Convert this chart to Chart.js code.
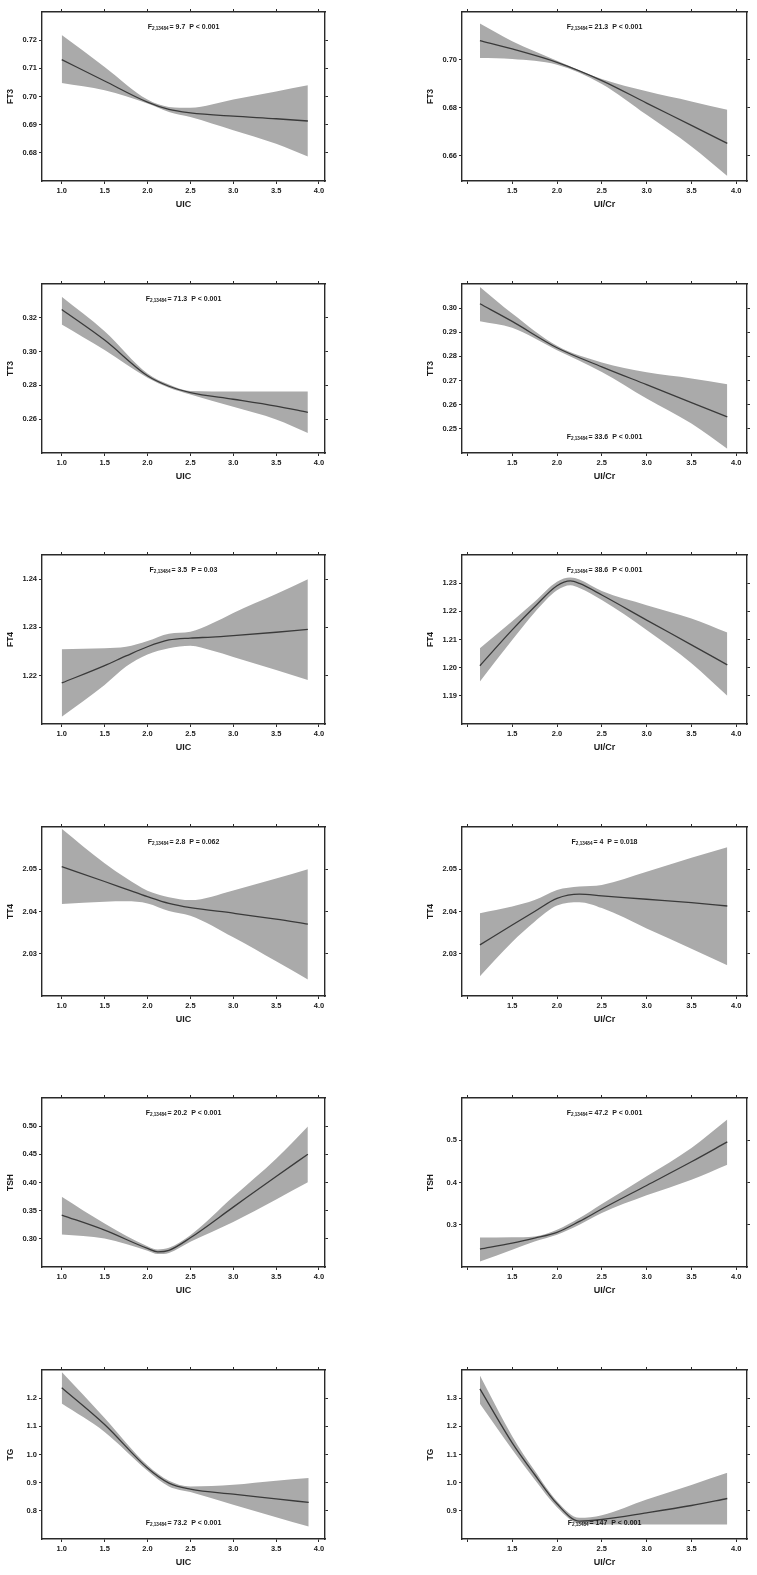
<!DOCTYPE html>
<html><head><meta charset="utf-8">
<script src="https://cdn.jsdelivr.net/npm/chart.js@4.4.0/dist/chart.umd.min.js"></script>
<style>
html,body{margin:0;padding:0;background:#fff;}
body{width:757px;height:1575px;position:relative;overflow:hidden;}
canvas{position:absolute;}
</style></head><body>
<script>
// ---------- DATA ----------
const xTickValues = [1.0, 1.5, 2.0, 2.5, 3.0, 3.5, 4.0];
const xTickLabelsUIC = ['1.0','1.5','2.0','2.5','3.0','3.5','4.0'];
const xTickLabelsUICr = ['','1.5','2.0','2.5','3.0','3.5','4.0'];

const subText = '2,13484';
const statF = ['9.7','21.3','71.3','33.6','3.5','38.6','2.8','4','20.2','47.2','73.2','147'];
const statP = ['P < 0.001','P < 0.001','P < 0.001','P < 0.001','P = 0.03','P < 0.001','P = 0.062','P = 0.018','P < 0.001','P < 0.001','P < 0.001','P < 0.001'];

// FT3 vs UIC
const ft3UicX   = [1.0, 1.5, 2.0, 2.25, 2.5, 3.0, 3.5, 3.87];
const ft3UicFit = [0.7131, 0.7055, 0.6980, 0.6954, 0.6942, 0.6930, 0.6921, 0.6913];
const ft3UicHi  = [0.7218, 0.7105, 0.6989, 0.6963, 0.6960, 0.6989, 0.7018, 0.7040];
const ft3UicLo  = [0.7048, 0.7022, 0.6975, 0.6945, 0.6927, 0.6880, 0.6832, 0.6787];
const ft3UicTicks = ['0.68','0.69','0.70','0.71','0.72'];

// FT3 vs UI/Cr
const ft3CrX   = [1.14, 1.5, 2.0, 2.5, 3.0, 3.5, 3.9];
const ft3CrFit = [0.7081, 0.7046, 0.6990, 0.6914, 0.6820, 0.6727, 0.6652];
const ft3CrHi  = [0.7152, 0.7078, 0.6997, 0.6920, 0.6869, 0.6827, 0.6792];
const ft3CrLo  = [0.7008, 0.7004, 0.6980, 0.6900, 0.6771, 0.6639, 0.6516];
const ft3CrTicks = ['0.66','0.68','0.70'];

// TT3 vs UIC
const tt3UicX   = [1.0, 1.5, 2.0, 2.25, 2.5, 3.0, 3.5, 3.87];
const tt3UicFit = [0.3249, 0.3068, 0.2857, 0.2795, 0.2757, 0.2718, 0.2677, 0.2641];
const tt3UicHi  = [0.3324, 0.3121, 0.2870, 0.2805, 0.2767, 0.2764, 0.2764, 0.2764];
const tt3UicLo  = [0.3161, 0.3009, 0.2845, 0.2786, 0.2746, 0.2673, 0.2598, 0.2519];
const tt3UicTicks = ['0.26','0.28','0.30','0.32'];

// TT3 vs UI/Cr
const tt3CrX   = [1.14, 1.5, 2.0, 2.5, 3.0, 3.5, 3.9];
const tt3CrFit = [0.3018, 0.2945, 0.2836, 0.2757, 0.2683, 0.2609, 0.2550];
const tt3CrHi  = [0.3088, 0.2978, 0.2844, 0.2775, 0.2734, 0.2709, 0.2685];
const tt3CrLo  = [0.2946, 0.2919, 0.2826, 0.2736, 0.2626, 0.2522, 0.2418];
const tt3CrTicks = ['0.25','0.26','0.27','0.28','0.29','0.30'];

// FT4 vs UIC
const ft4UicX   = [1.0, 1.5, 1.75, 2.0, 2.25, 2.5, 2.75, 3.0, 3.5, 3.87];
const ft4UicFit = [1.2185, 1.2221, 1.2241, 1.2260, 1.2274, 1.2278, 1.2280, 1.2283, 1.2290, 1.2296];
const ft4UicHi  = [1.2255, 1.2257, 1.2260, 1.2272, 1.2287, 1.2291, 1.2308, 1.2330, 1.2369, 1.2400];
const ft4UicLo  = [1.2115, 1.2181, 1.2219, 1.2244, 1.2257, 1.2262, 1.2252, 1.2239, 1.2212, 1.2191];
const ft4UicTicks = ['1.22','1.23','1.24'];

// FT4 vs UI/Cr
const ft4CrX   = [1.14, 1.5, 1.75, 2.0, 2.15, 2.25, 2.5, 3.0, 3.5, 3.9];
const ft4CrFit = [1.2007, 1.2134, 1.2216, 1.2291, 1.2308, 1.2299, 1.2258, 1.2169, 1.2081, 1.2010];
const ft4CrHi  = [1.2069, 1.2165, 1.2234, 1.2305, 1.2320, 1.2313, 1.2272, 1.2222, 1.2175, 1.2125];
const ft4CrLo  = [1.1951, 1.2098, 1.2196, 1.2275, 1.2293, 1.2283, 1.2240, 1.2134, 1.2016, 1.1900];
const ft4CrTicks = ['1.19','1.20','1.21','1.22','1.23'];

// TT4 vs UIC
const tt4UicX   = [1.0, 1.5, 1.75, 2.0, 2.25, 2.5, 3.0, 3.5, 3.87];
const tt4UicFit = [2.0506, 2.0471, 2.0453, 2.0435, 2.0419, 2.0409, 2.0396, 2.0382, 2.0370];
const tt4UicHi  = [2.0596, 2.0514, 2.0479, 2.0449, 2.0434, 2.0427, 2.0450, 2.0478, 2.0500];
const tt4UicLo  = [2.0418, 2.0423, 2.0424, 2.0419, 2.0401, 2.0390, 2.0339, 2.0282, 2.0239];
const tt4UicTicks = ['2.03','2.04','2.05'];

// TT4 vs UI/Cr
const tt4CrX   = [1.14, 1.5, 1.75, 2.0, 2.25, 2.5, 3.0, 3.5, 3.9];
const tt4CrFit = [2.0321, 2.0368, 2.0400, 2.0431, 2.0441, 2.0437, 2.0429, 2.0421, 2.0413];
const tt4CrHi  = [2.0396, 2.0412, 2.0427, 2.0451, 2.0459, 2.0463, 2.0494, 2.0527, 2.0552];
const tt4CrLo  = [2.0247, 2.0328, 2.0376, 2.0414, 2.0422, 2.0408, 2.0360, 2.0312, 2.0273];
const tt4CrTicks = ['2.03','2.04','2.05'];

// TSH vs UIC
const tshUicX   = [1.0, 1.5, 2.0, 2.12, 2.25, 2.5, 3.0, 3.5, 3.87];
const tshUicFit = [0.3422, 0.3154, 0.2830, 0.2769, 0.2795, 0.3018, 0.3563, 0.4107, 0.4501];
const tshUicHi  = [0.3748, 0.3273, 0.2870, 0.2810, 0.2840, 0.3065, 0.3745, 0.4420, 0.4994];
const tshUicLo  = [0.3077, 0.3006, 0.2790, 0.2730, 0.2750, 0.2947, 0.3300, 0.3700, 0.4003];
const tshUicTicks = ['0.30','0.35','0.40','0.45','0.50'];

// TSH vs UI/Cr
const tshCrX   = [1.14, 1.5, 1.75, 2.0, 2.25, 2.5, 3.0, 3.5, 3.9];
const tshCrFit = [0.2423, 0.2565, 0.2684, 0.2818, 0.3079, 0.3372, 0.3930, 0.4490, 0.4960];
const tshCrHi  = [0.2700, 0.2705, 0.2723, 0.2881, 0.3158, 0.3490, 0.4146, 0.4818, 0.5490];
const tshCrLo  = [0.2130, 0.2407, 0.2605, 0.2763, 0.3000, 0.3277, 0.3696, 0.4067, 0.4423];
const tshCrTicks = ['0.3','0.4','0.5'];

// TG vs UIC
const tgUicX   = [1.0, 1.5, 2.0, 2.25, 2.5, 3.0, 3.5, 3.88];
const tgUicFit = [1.2368, 1.1062, 0.9519, 0.8985, 0.8771, 0.8593, 0.8427, 0.8297];
const tgUicHi  = [1.2926, 1.1300, 0.9614, 0.9068, 0.8866, 0.8926, 0.9068, 0.9163];
const tgUicLo  = [1.1810, 1.0801, 0.9424, 0.8866, 0.8665, 0.8215, 0.7775, 0.7442];
const tgUicTicks = ['0.8','0.9','1.0','1.1','1.2'];

// TG vs UI/Cr
const tgCrX   = [1.14, 1.5, 1.75, 2.0, 2.25, 2.5, 3.0, 3.5, 3.9];
const tgCrFit = [1.3331, 1.1414, 1.0290, 0.9249, 0.8633, 0.8692, 0.8929, 0.9189, 0.9438];
const tgCrHi  = [1.3805, 1.1651, 1.0432, 0.9343, 0.8751, 0.8846, 0.9400, 0.9920, 1.0349];
const tgCrLo  = [1.2799, 1.1178, 1.0112, 0.9130, 0.8538, 0.8515, 0.8515, 0.8515, 0.8515];
const tgCrTicks = ['0.9','1.0','1.1','1.2','1.3'];

// ---------- BUILD ----------
const FAM = '"Liberation Sans", Arial, Helvetica, sans-serif';
Chart.defaults.font.family = FAM;

const panels = [
  {x:ft3UicX, fit:ft3UicFit, hi:ft3UicHi, lo:ft3UicLo, ticks:ft3UicTicks, yr:[0.67,0.73], yT:'FT3', xT:'UIC', pos:'top'},
  {x:ft3CrX, fit:ft3CrFit, hi:ft3CrHi, lo:ft3CrLo, ticks:ft3CrTicks, yr:[0.6495,0.72], yT:'FT3', xT:'UI/Cr', pos:'top'},
  {x:tt3UicX, fit:tt3UicFit, hi:tt3UicHi, lo:tt3UicLo, ticks:tt3UicTicks, yr:[0.24,0.34], yT:'TT3', xT:'UIC', pos:'top'},
  {x:tt3CrX, fit:tt3CrFit, hi:tt3CrHi, lo:tt3CrLo, ticks:tt3CrTicks, yr:[0.24,0.31], yT:'TT3', xT:'UI/Cr', pos:'bottom'},
  {x:ft4UicX, fit:ft4UicFit, hi:ft4UicHi, lo:ft4UicLo, ticks:ft4UicTicks, yr:[1.21,1.245], yT:'FT4', xT:'UIC', pos:'top'},
  {x:ft4CrX, fit:ft4CrFit, hi:ft4CrHi, lo:ft4CrLo, ticks:ft4CrTicks, yr:[1.18,1.24], yT:'FT4', xT:'UI/Cr', pos:'top'},
  {x:tt4UicX, fit:tt4UicFit, hi:tt4UicHi, lo:tt4UicLo, ticks:tt4UicTicks, yr:[2.02,2.06], yT:'TT4', xT:'UIC', pos:'top'},
  {x:tt4CrX, fit:tt4CrFit, hi:tt4CrHi, lo:tt4CrLo, ticks:tt4CrTicks, yr:[2.02,2.06], yT:'TT4', xT:'UI/Cr', pos:'top'},
  {x:tshUicX, fit:tshUicFit, hi:tshUicHi, lo:tshUicLo, ticks:tshUicTicks, yr:[0.25,0.55], yT:'TSH', xT:'UIC', pos:'top'},
  {x:tshCrX, fit:tshCrFit, hi:tshCrHi, lo:tshCrLo, ticks:tshCrTicks, yr:[0.2,0.6], yT:'TSH', xT:'UI/Cr', pos:'top'},
  {x:tgUicX, fit:tgUicFit, hi:tgUicHi, lo:tgUicLo, ticks:tgUicTicks, yr:[0.7,1.3], yT:'TG', xT:'UIC', pos:'bottom'},
  {x:tgCrX, fit:tgCrFit, hi:tgCrHi, lo:tgCrLo, ticks:tgCrTicks, yr:[0.8,1.4], yT:'TG', xT:'UI/Cr', pos:'bottom'}
];

const fPlugin = {
  id: 'fstat',
  afterDraw(chart, args, o) {
    if (!o || !o.rest) return;
    const ctx = chart.ctx, a = chart.chartArea;
    const big = 'bold 7px ' + FAM, small = 'bold 4.6px ' + FAM;
    ctx.save();
    ctx.font = big;
    const wF = ctx.measureText('F').width, wR = ctx.measureText(o.rest).width;
    ctx.font = small;
    const wS = ctx.measureText(o.sub).width;
    const total = wF + wS + 1 + wR;
    let x = (a.left + a.right) / 2 - total / 2;
    const y = o.pos === 'top' ? a.top + 15 : a.bottom - 16;
    ctx.fillStyle = '#1a1a1a';
    ctx.textBaseline = 'middle';
    ctx.textAlign = 'left';
    ctx.font = big; ctx.fillText('F', x, y); x += wF;
    ctx.font = small; ctx.fillText(o.sub, x, y + 2); x += wS + 1;
    ctx.font = big; ctx.fillText(o.rest, x, y);
    ctx.restore();
  }
};

const AX = '#2a2a2a';
const grid = {drawOnChartArea:false, drawTicks:true, tickLength:3, color:AX, lineWidth:1};
const border = {display:true, color:AX, width:1.4};
const tickFont = {family:FAM, size:7.5, weight:'bold'};

panels.forEach((p, i) => {
  const row = Math.floor(i / 2), col = i % 2;
  const left = col === 0 ? 0 : 420;
  const W = col === 0 ? 340 : 337;
  const TOPH = 12, BOXH = 169, BOTH = 31;
  const H = TOPH + BOXH + BOTH;
  const boxTop = 12 + row * 271.6;
  const cv = document.createElement('canvas');
  cv.width = W; cv.height = H;
  cv.style.left = left + 'px';
  cv.style.top = Math.round(boxTop - TOPH) + 'px';
  cv.style.width = W + 'px'; cv.style.height = H + 'px';
  document.body.appendChild(cv);

  const xr = col === 0 ? [0.77, 4.07] : [0.94, 4.12];
  const xLabels = col === 0 ? xTickLabelsUIC : xTickLabelsUICr;
  const yVals = p.ticks.map(Number);
  const pts = arr => p.x.map((xv, k) => ({x: xv, y: arr[k]}));
  const rightW = col === 0 ? W - 325 : 10;

  new Chart(cv, {
    type: 'line',
    data: {
      datasets: [
        {data: pts(p.fit), borderWidth:1.3, borderColor:'#3a3a3a', pointRadius:0, fill:false, cubicInterpolationMode:'monotone', order:0},
        {data: pts(p.hi), borderWidth:0, borderColor:'rgba(0,0,0,0)', pointRadius:0, fill:'+1', backgroundColor:'#aaaaaa', cubicInterpolationMode:'monotone', order:1},
        {data: pts(p.lo), borderWidth:0, borderColor:'rgba(0,0,0,0)', pointRadius:0, fill:false, cubicInterpolationMode:'monotone', order:2}
      ]
    },
    options: {
      responsive:false, animation:false, devicePixelRatio:1,
      layout:{padding:0},
      plugins:{
        legend:{display:false}, tooltip:{enabled:false},
        filler:{drawTime:'beforeDatasetsDraw'},
        fstat:{sub: subText, rest: '= ' + statF[i] + '  ' + statP[i], pos: p.pos}
      },
      scales: {
        x: {type:'linear', position:'bottom', min:xr[0], max:xr[1], grid, border,
            afterBuildTicks: s => { s.ticks = xTickValues.map(v => ({value:v})); },
            ticks:{autoSkip:false, maxRotation:0, minRotation:0, padding:2, color:'#1a1a1a', font:tickFont,
                   callback:(v, k) => xLabels[k]},
            title:{display:true, text:p.xT, color:'#1a1a1a', font:{family:FAM, size:9, weight:'bold'}, padding:{top:0, bottom:2}},
            afterFit: s => { s.height = BOTH; }},
        x2: {type:'linear', position:'top', min:xr[0], max:xr[1], grid, border,
            afterBuildTicks: s => { s.ticks = xTickValues.map(v => ({value:v})); },
            ticks:{autoSkip:false, maxRotation:0, minRotation:0, callback:() => ''},
            afterFit: s => { s.height = TOPH; }},
        y: {type:'linear', position:'left', min:p.yr[0], max:p.yr[1], grid, border,
            afterBuildTicks: s => { s.ticks = yVals.map(v => ({value:v})); },
            ticks:{autoSkip:false, padding:2, color:'#1a1a1a', font:tickFont, callback:(v, k) => p.ticks[k]},
            title:{display:true, text:p.yT, color:'#1a1a1a', font:{family:FAM, size:8.5, weight:'bold'}, padding:{top:6, bottom:0}},
            afterFit: s => { s.width = 42; }},
        y2: {type:'linear', position:'right', min:p.yr[0], max:p.yr[1], grid, border,
            afterBuildTicks: s => { s.ticks = yVals.map(v => ({value:v})); },
            ticks:{autoSkip:false, callback:() => ''},
            afterFit: s => { s.width = rightW; }}
      }
    },
    plugins: [fPlugin]
  });
});
</script>
</body></html>
